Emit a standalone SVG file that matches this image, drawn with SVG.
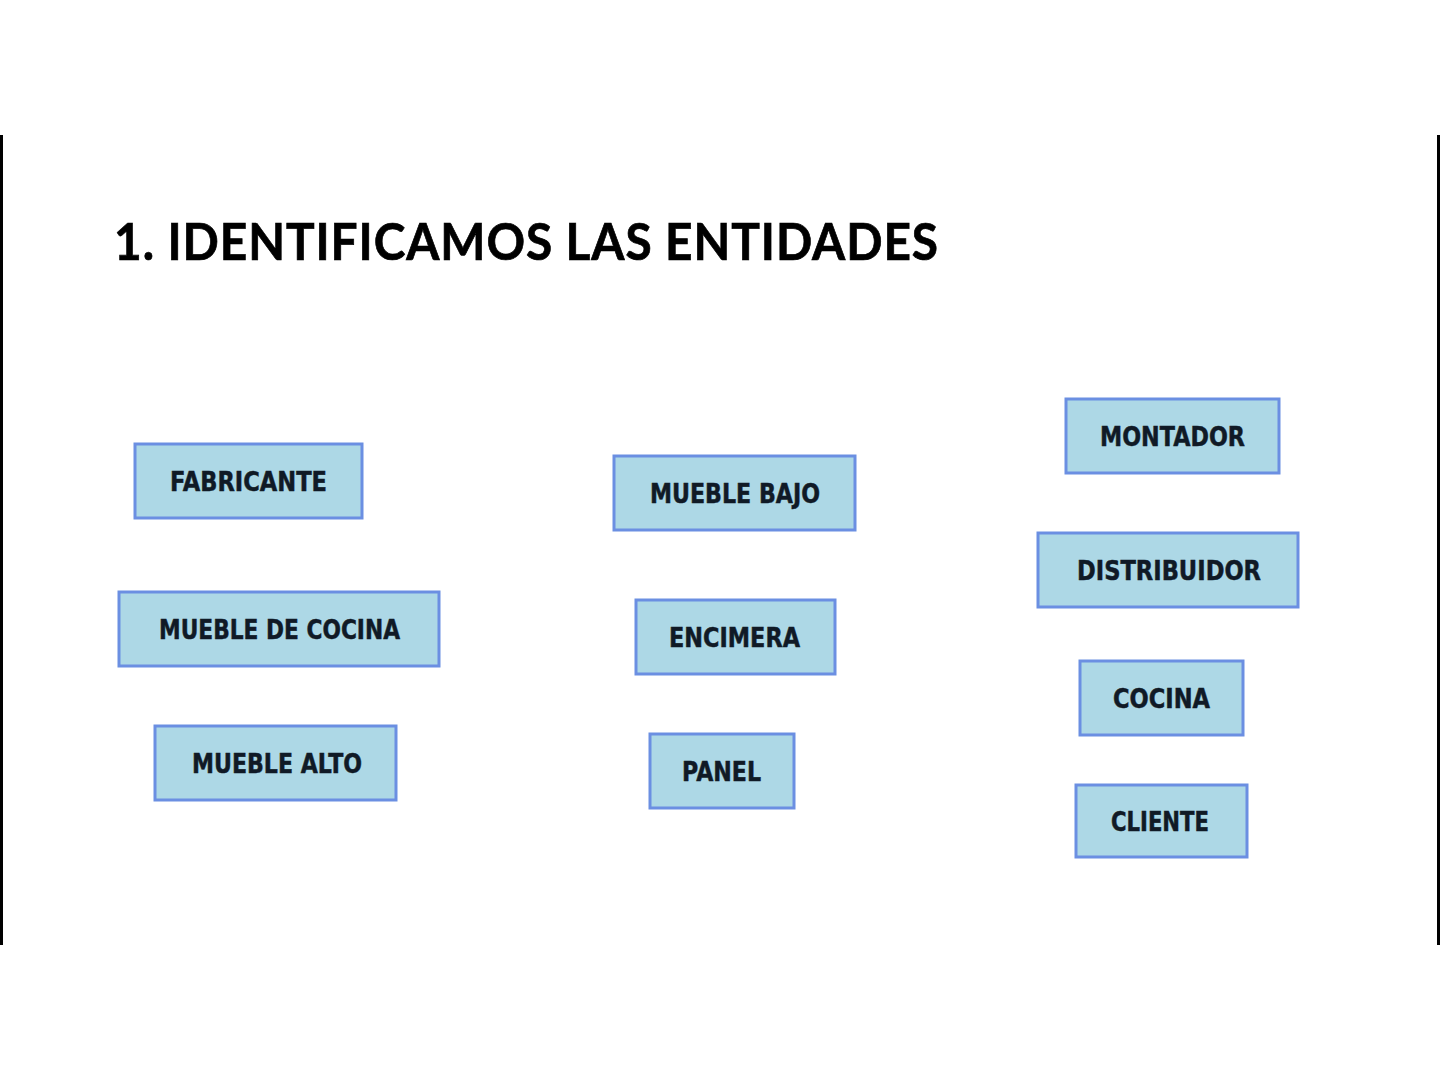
<svg xmlns="http://www.w3.org/2000/svg" width="1440" height="1080" viewBox="0 0 1440 1080">
<style>
.box{fill:#add8e6;stroke:#6b8fe2;stroke-width:3}
.lbl{font-family:"DejaVu Sans","Liberation Sans",sans-serif;font-weight:bold;font-size:26px;fill:#101a26;stroke:#101a26;stroke-width:0.5;text-anchor:middle}
.title{font-family:Lato,"Liberation Sans",sans-serif;font-weight:bold;font-size:52px;fill:#000;stroke:#000;stroke-width:0.7;letter-spacing:1px}
</style>
<rect x="0" y="0" width="1440" height="1080" fill="#fff"/>
<rect x="0" y="135" width="3" height="810" fill="#000"/>
<rect x="1437" y="135" width="3" height="810" fill="#000"/>
<text class="title" x="114" y="260" textLength="825" lengthAdjust="spacingAndGlyphs">1. IDENTIFICAMOS LAS ENTIDADES</text>
<g id="connectors"></g>
<g id="fabricante"><rect class="box" x="135" y="444" width="227" height="74"/><text class="lbl" x="248.5" y="491" textLength="157" lengthAdjust="spacingAndGlyphs">FABRICANTE</text></g>
<g id="mueble-de-cocina"><rect class="box" x="119" y="592" width="320" height="74"/><text class="lbl" x="279.5" y="639" textLength="241" lengthAdjust="spacingAndGlyphs">MUEBLE DE COCINA</text></g>
<g id="mueble-alto"><rect class="box" x="155" y="726" width="241" height="74"/><text class="lbl" x="277" y="773" textLength="170" lengthAdjust="spacingAndGlyphs">MUEBLE ALTO</text></g>
<g id="mueble-bajo"><rect class="box" x="614" y="456" width="241" height="74"/><text class="lbl" x="735" y="503" textLength="170" lengthAdjust="spacingAndGlyphs">MUEBLE BAJO</text></g>
<g id="encimera"><rect class="box" x="636" y="600" width="199" height="74"/><text class="lbl" x="734.5" y="647" textLength="131" lengthAdjust="spacingAndGlyphs">ENCIMERA</text></g>
<g id="panel"><rect class="box" x="650" y="734" width="144" height="74"/><text class="lbl" x="721.5" y="781" textLength="79" lengthAdjust="spacingAndGlyphs">PANEL</text></g>
<g id="montador"><rect class="box" x="1066" y="399" width="213" height="74"/><text class="lbl" x="1172.5" y="446" textLength="145" lengthAdjust="spacingAndGlyphs">MONTADOR</text></g>
<g id="distribuidor"><rect class="box" x="1038" y="533" width="260" height="74"/><text class="lbl" x="1169" y="580" textLength="184" lengthAdjust="spacingAndGlyphs">DISTRIBUIDOR</text></g>
<g id="cocina"><rect class="box" x="1080" y="661" width="163" height="74"/><text class="lbl" x="1161.5" y="708" textLength="97" lengthAdjust="spacingAndGlyphs">COCINA</text></g>
<g id="cliente"><rect class="box" x="1076" y="785" width="171" height="72"/><text class="lbl" x="1160" y="831" textLength="98" lengthAdjust="spacingAndGlyphs">CLIENTE</text></g>
</svg>
